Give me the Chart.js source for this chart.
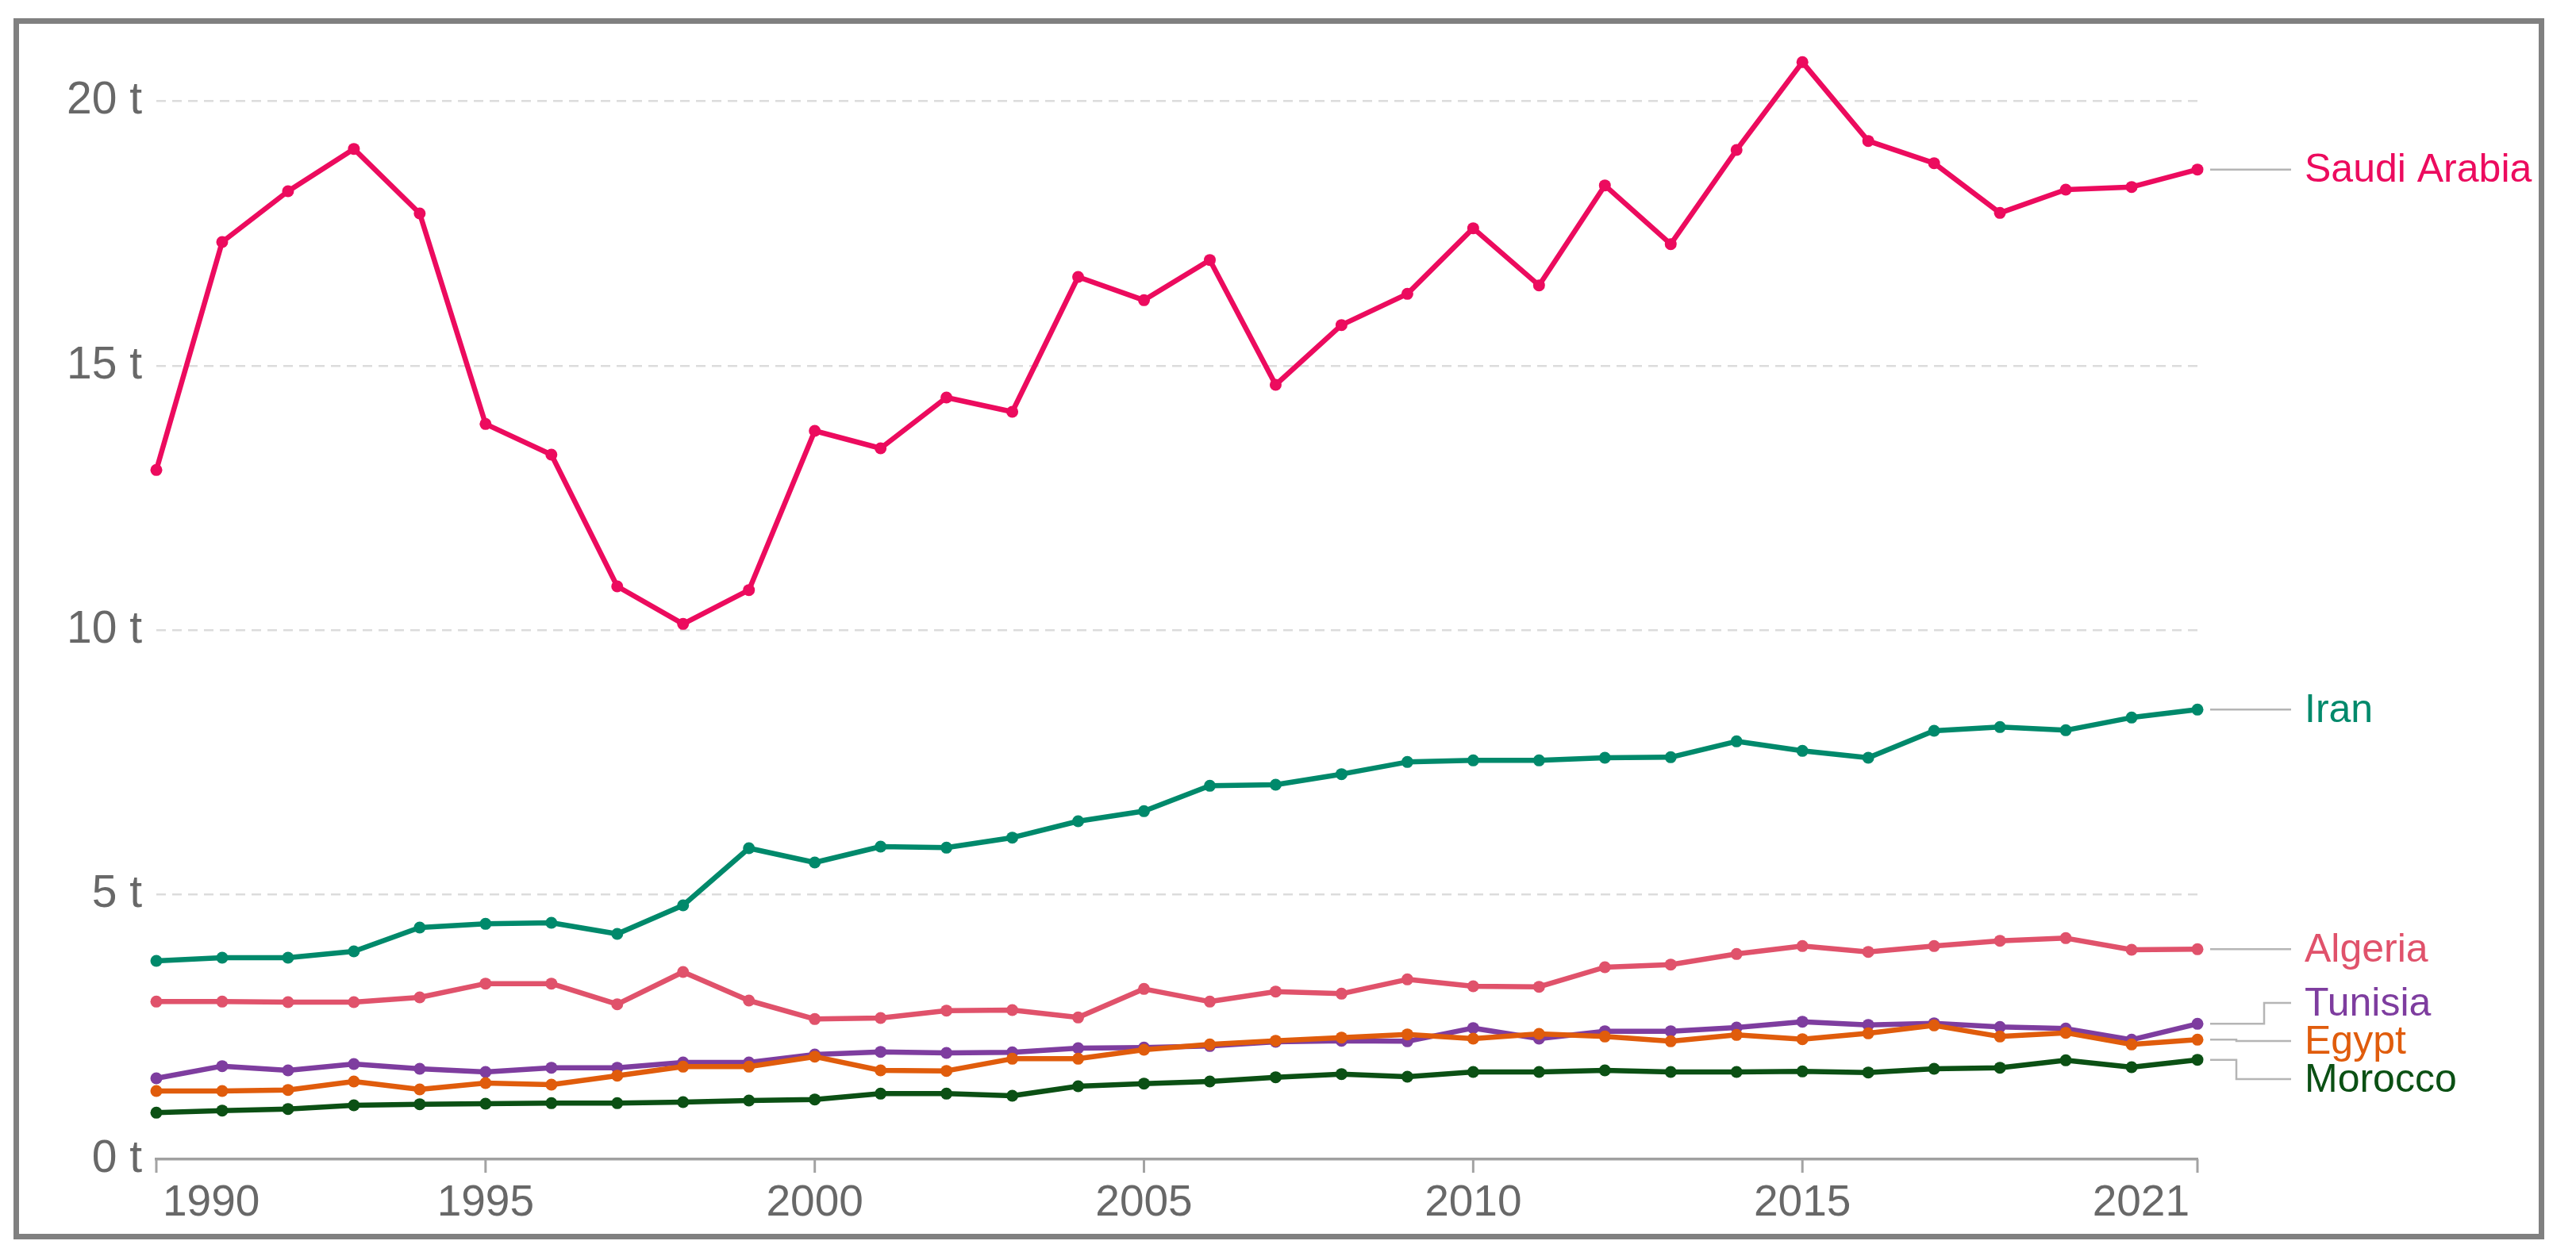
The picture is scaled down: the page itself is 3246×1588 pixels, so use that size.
<!DOCTYPE html>
<html>
<head>
<meta charset="utf-8">
<title>CO2 per capita</title>
<script src="https://cdn.jsdelivr.net/npm/chart.js@4.4.1/dist/chart.umd.min.js"></script>
<style>
  html, body { margin: 0; padding: 0; background: #fff; }
  #wrap { position: relative; width: 3246px; height: 1588px; }
  #frame {
    position: absolute; left: 17px; top: 23px; width: 3189px; height: 1539px;
    box-sizing: border-box; border: 7px solid #808080; pointer-events: none;
  }
</style>
</head>
<body>
<div id="wrap">
  <canvas id="co2Chart" width="3246" height="1588"></canvas>
  <div id="frame"></div>
</div>
<script>
const years = [1990, 1991, 1992, 1993, 1994, 1995, 1996, 1997, 1998, 1999,
               2000, 2001, 2002, 2003, 2004, 2005, 2006, 2007, 2008, 2009,
               2010, 2011, 2012, 2013, 2014, 2015, 2016, 2017, 2018, 2019,
               2020, 2021];
const xTickYears = [1990, 1995, 2000, 2005, 2010, 2015, 2021];
const yTicks = [0, 5, 10, 15, 20];

const saudiArabia = [13.03, 17.34, 18.30, 19.10, 17.88, 13.90, 13.32, 10.83, 10.12, 10.76,
                     13.77, 13.44, 14.40, 14.13, 16.68, 16.24, 17.00, 14.64, 15.77, 16.36,
                     17.60, 16.52, 18.41, 17.30, 19.08, 20.74, 19.25, 18.83, 17.89, 18.33,
                     18.38, 18.71];
const iran = [3.75, 3.81, 3.81, 3.93, 4.38, 4.45, 4.47, 4.26, 4.80, 5.88,
              5.61, 5.91, 5.89, 6.08, 6.39, 6.58, 7.06, 7.08, 7.28, 7.51,
              7.54, 7.54, 7.59, 7.60, 7.90, 7.72, 7.59, 8.10, 8.17, 8.11,
              8.35, 8.50];
const algeria = [2.98, 2.98, 2.97, 2.97, 3.06, 3.32, 3.32, 2.93, 3.54, 3.00,
                 2.65, 2.67, 2.81, 2.82, 2.68, 3.22, 2.98, 3.17, 3.13, 3.40,
                 3.27, 3.26, 3.63, 3.68, 3.88, 4.03, 3.92, 4.03, 4.13, 4.18,
                 3.96, 3.97];
const tunisia = [1.53, 1.76, 1.68, 1.80, 1.71, 1.65, 1.73, 1.73, 1.83, 1.83,
                 1.98, 2.03, 2.01, 2.02, 2.10, 2.11, 2.14, 2.22, 2.24, 2.23,
                 2.48, 2.28, 2.42, 2.42, 2.49, 2.60, 2.54, 2.57, 2.50, 2.47,
                 2.26, 2.56];
const egypt = [1.29, 1.29, 1.31, 1.47, 1.32, 1.44, 1.41, 1.58, 1.75, 1.75,
               1.94, 1.68, 1.67, 1.90, 1.90, 2.07, 2.17, 2.24, 2.30, 2.36,
               2.28, 2.37, 2.32, 2.23, 2.35, 2.27, 2.38, 2.53, 2.32, 2.39,
               2.17, 2.26];
const morocco = [0.88, 0.92, 0.95, 1.02, 1.04, 1.05, 1.06, 1.06, 1.08, 1.11,
                 1.13, 1.24, 1.24, 1.20, 1.38, 1.43, 1.47, 1.55, 1.61, 1.56,
                 1.65, 1.65, 1.68, 1.65, 1.65, 1.66, 1.64, 1.71, 1.73, 1.87,
                 1.74, 1.88];

// first dataset is drawn on top
const series = [
    { name: 'Saudi Arabia', values: saudiArabia, color: '#ec0b5e' },
    { name: 'Iran', values: iran, color: '#00896b' },
    { name: 'Algeria', values: algeria, color: '#e0526b' },
    { name: 'Morocco', values: morocco, color: '#0b5014' },
    { name: 'Egypt', values: egypt, color: '#e05c0c' },
    { name: 'Tunisia', values: tunisia, color: '#7e3d9f' }
];

const FONT = '"Liberation Sans", Arial, sans-serif';
const TICK_COLOR = '#686868';

// x axis ticks + labels, first one left aligned and last one right aligned (like the original)
const xLabelsPlugin = {
    id: 'xLabels',
    afterDraw(chart) {
        const ctx = chart.ctx;
        const x = chart.scales.x;
        const base = chart.chartArea.bottom;
        ctx.save();
        ctx.strokeStyle = '#a3a3a3';
        ctx.lineWidth = 3;
        ctx.fillStyle = TICK_COLOR;
        ctx.font = '55px ' + FONT;
        ctx.textBaseline = 'alphabetic';
        xTickYears.forEach((yr, i) => {
            const px = x.getPixelForValue(yr);
            ctx.beginPath();
            ctx.moveTo(px, base);
            ctx.lineTo(px, base + 17);
            ctx.stroke();
            if (i === 0) {
                ctx.textAlign = 'left';
                ctx.fillText(String(yr), px + 8, base + 71);
            } else if (i === xTickYears.length - 1) {
                ctx.textAlign = 'right';
                ctx.fillText(String(yr), px - 10, base + 71);
            } else {
                ctx.textAlign = 'center';
                ctx.fillText(String(yr), px, base + 71);
            }
        });
        ctx.restore();
    }
};

// country names at the right end of each line, pushed apart when they overlap
const endLabelsPlugin = {
    id: 'endLabels',
    afterDraw(chart) {
        const ctx = chart.ctx;
        const x = chart.scales.x;
        const y = chart.scales.y;
        const gap = 48;
        const lastX = x.getPixelForValue(years[years.length - 1]);

        let items = series.map(s => ({
            name: s.name,
            color: s.color,
            py: y.getPixelForValue(s.values[s.values.length - 1])
        }));
        items.sort((a, b) => a.py - b.py);

        let groups = items.map(it => ({ members: [it] }));
        const center = g => g.members.reduce((t, m) => t + m.py, 0) / g.members.length;
        const top = g => center(g) - (g.members.length - 1) * gap / 2;
        const bottom = g => center(g) + (g.members.length - 1) * gap / 2;
        let merged = true;
        while (merged) {
            merged = false;
            for (let i = 0; i < groups.length - 1; i++) {
                if (top(groups[i + 1]) - bottom(groups[i]) < gap) {
                    groups[i].members = groups[i].members.concat(groups[i + 1].members);
                    groups.splice(i + 1, 1);
                    merged = true;
                    break;
                }
            }
        }
        groups.forEach(g => {
            const t = top(g);
            g.members.forEach((m, i) => { m.ly = t + i * gap; });
        });

        ctx.save();
        ctx.lineWidth = 2.5;
        ctx.strokeStyle = '#b5b5b5';
        items.forEach(m => {
            const x0 = lastX + 16;
            const x3 = lastX + 118;
            let bend = x3;
            if (m.ly < m.py - 1) bend = lastX + 84;
            else if (m.ly > m.py + 1) bend = lastX + 49;
            else bend = lastX + 84;
            ctx.beginPath();
            ctx.moveTo(x0, m.py);
            ctx.lineTo(bend, m.py);
            ctx.lineTo(bend, m.ly);
            ctx.lineTo(x3, m.ly);
            ctx.stroke();

            ctx.fillStyle = m.color;
            ctx.font = '50px ' + FONT;
            ctx.textAlign = 'left';
            ctx.textBaseline = 'middle';
            ctx.fillText(m.name, lastX + 135, m.ly + 2);
        });
        ctx.restore();
    }
};

new Chart(document.getElementById('co2Chart'), {
    type: 'line',
    data: {
        datasets: series.map(s => ({
            label: s.name,
            data: years.map((yr, i) => ({ x: yr, y: s.values[i] })),
            borderColor: s.color,
            backgroundColor: s.color,
            borderWidth: 6.5,
            pointRadius: 7.5,
            pointBorderWidth: 0,
            pointBackgroundColor: s.color,
            borderJoinStyle: 'round',
            borderCapStyle: 'round',
            tension: 0,
            clip: false
        }))
    },
    options: {
        responsive: false,
        devicePixelRatio: 1,
        animation: false,
        events: [],
        layout: { padding: { left: 0, top: 61, right: 477, bottom: 0 } },
        plugins: {
            legend: { display: false },
            tooltip: { enabled: false }
        },
        scales: {
            x: {
                type: 'linear',
                min: 1990,
                max: 2021,
                grid: { display: false },
                ticks: { display: false },
                border: { display: true, color: '#a0a0a0', width: 3.5 },
                afterFit(scale) { scale.height = 127; }
            },
            y: {
                min: 0,
                max: 21,
                afterBuildTicks(scale) { scale.ticks = yTicks.map(v => ({ value: v })); },
                ticks: {
                    callback: v => v + ' t',
                    color: TICK_COLOR,
                    font: { family: FONT, size: 57 },
                    padding: 18
                },
                grid: {
                    drawTicks: false,
                    lineWidth: 2.5,
                    color: c => (c.tick && c.tick.value === 0) ? 'rgba(0,0,0,0)' : '#dcdcdc'
                },
                border: { display: false, dash: [12, 8] },
                afterFit(scale) { scale.width = 197; }
            }
        }
    },
    plugins: [xLabelsPlugin, endLabelsPlugin]
});
</script>
</body>
</html>
